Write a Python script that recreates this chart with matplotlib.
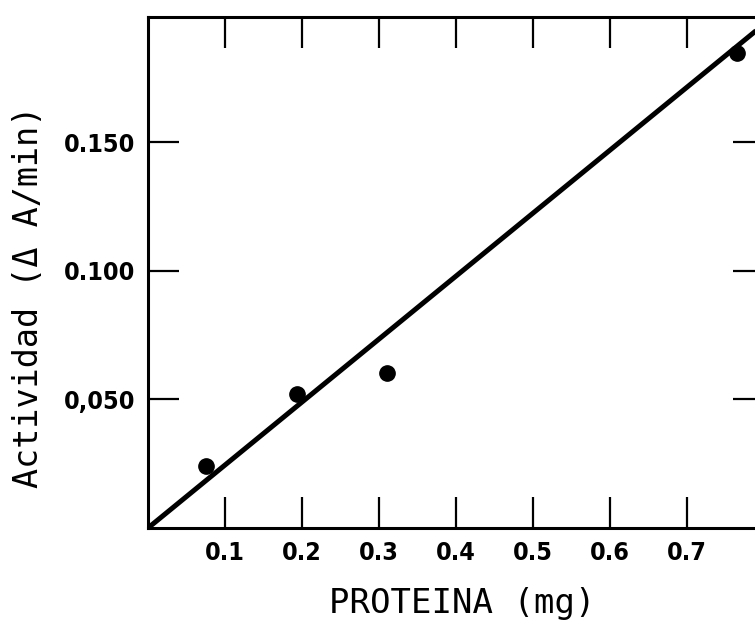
import matplotlib
matplotlib.use("Agg")
import matplotlib.pyplot as plt

# Protein amount (mg) vs. enzyme activity (ΔA/min)
proteina = [0.075, 0.193, 0.310, 0.765]
actividad = [0.0241, 0.0521, 0.0604, 0.1848]

# Straight line through the origin
recta_x = [0.0, 0.80]
recta_y = [0.0, 0.196]

xticks = [0.1, 0.2, 0.3, 0.4, 0.5, 0.6, 0.7]
xticklabels = ["0.1", "0.2", "0.3", "0.4", "0.5", "0.6", "0.7"]
yticks = [0.05, 0.10, 0.15]
yticklabels = ["0,050", "0.100", "0.150"]

mono_family = ["DejaVu Sans Mono"]

W, H = 755, 622
fig = plt.figure(figsize=(W / 100, H / 100), dpi=100)

x0, x1 = 148, 764
y_top, y_bot = 17, 528
ax = fig.add_axes([x0 / W, (H - y_bot) / H, (x1 - x0) / W, (y_bot - y_top) / H])

ax.plot(recta_x, recta_y, color="black", lw=3.6, solid_capstyle="butt", zorder=3)
ax.plot(proteina, actividad, "o", color="black", ms=11, zorder=4)

ax.set_xlim(0, 0.8)
ax.set_ylim(0, 0.1988)

for s in ax.spines.values():
    s.set_linewidth(2.2)

ax.set_xticks(xticks)
ax.set_xticklabels(xticklabels)
ax.set_yticks(yticks)
ax.set_yticklabels(yticklabels)
ax.tick_params(axis="both", which="major", direction="in", length=22,
               width=1.6, top=True, right=True, labeltop=False, labelright=False)
ax.tick_params(axis="x", pad=9)
ax.tick_params(axis="y", pad=9)
for lab in ax.get_xticklabels() + ax.get_yticklabels():
    lab.set_family("DejaVu Sans")
    lab.set_fontstretch("condensed")
    lab.set_fontweight("bold")
    lab.set_fontsize(18)

ax.set_xlabel("PROTEINA (mg)", family=mono_family, fontsize=24.5)
ax.xaxis.set_label_coords(0.51, -0.115)
ax.set_ylabel("Actividad (Δ A/min)", family=mono_family, fontsize=24)
ax.yaxis.set_label_coords(-0.167, 0.452)

fig.savefig("out.png", dpi=100)
